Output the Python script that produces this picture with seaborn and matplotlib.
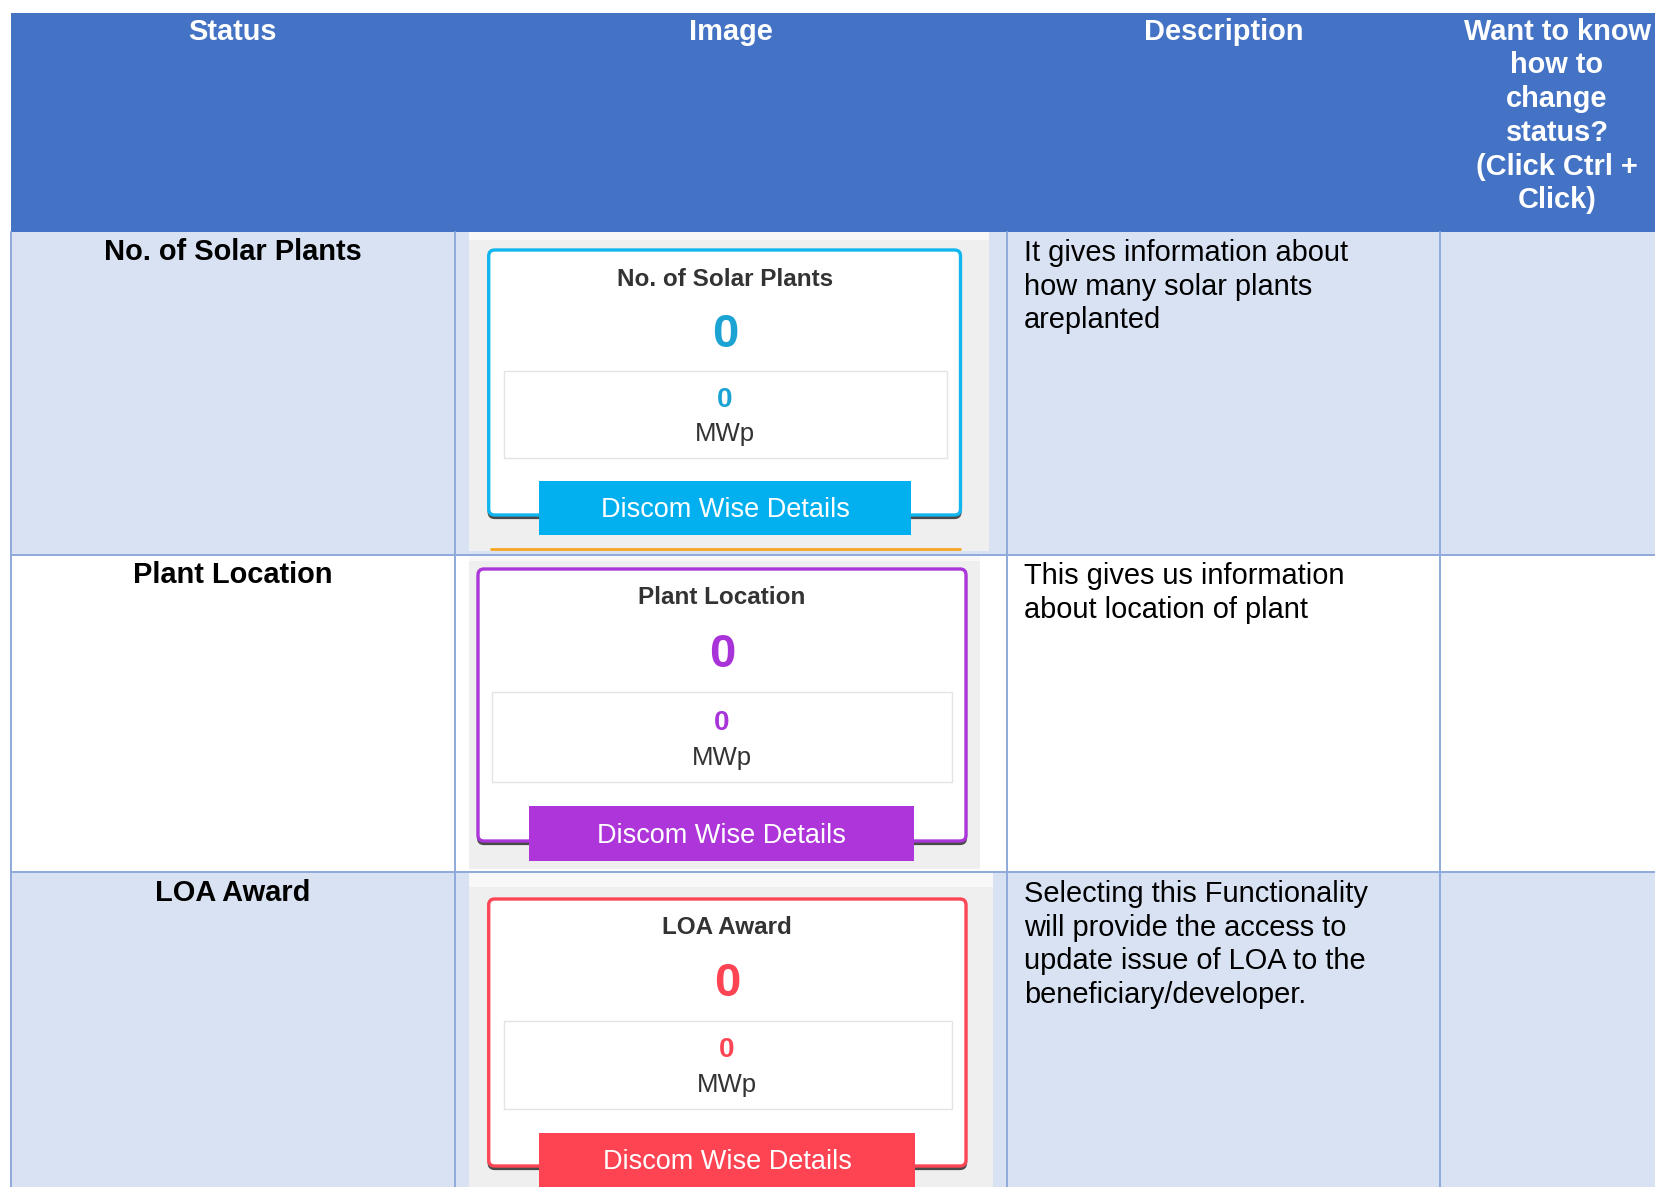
import numpy as np
import seaborn as sns
import matplotlib.pyplot as plt
from matplotlib.patches import Rectangle, FancyBboxPatch

# ---- table content ----
headers = ['Status', 'Image', 'Description',
           'Want to know\nhow to\nchange\nstatus?\n(Click Ctrl +\nClick)']
statuses = ['No. of Solar Plants', 'Plant Location', 'LOA Award']
descriptions = ['It gives information about\nhow many solar plants\nareplanted',
                'This gives us information\nabout location of plant',
                'Selecting this Functionality\nwill provide the access to\nupdate issue of LOA to the\nbeneficiary/developer.']
card_titles = ['No. of Solar Plants', 'Plant Location', 'LOA Award']
plant_counts = [0, 0, 0]
capacity_mwp = [0, 0, 0]
capacity_unit = 'MWp'
button_label = 'Discom Wise Details'

border_colors = ['#12b6ee', '#ab37d9', '#fe4656']
number_colors = ['#1ba3d3', '#a834d9', '#fe4453']
button_colors = ['#02b0f0', '#ae35d9', '#fe4453']

# ---- layout (pixel coords, y downwards) ----
W, H = 1655, 1187
col_x = [10.5, 455, 1007, 1440, 1700]
row_y = [232, 555, 872, 1200]
row_bg = ['#d9e2f3', '#ffffff', '#d9e2f3']
grid_c = '#8eaadb'
header_c = '#4472c4'

cards = [
    dict(panel=(468.6, 232, 989, 551), strip=8, border=(488.7, 250, 960.5, 515), inner=(503.5, 370.5, 947, 458),
         button=(539, 481, 911, 535), cx=725, title_y=279, big_y=335, small_y=400, mwp_y=434, btn_y=510),
    dict(panel=(468.6, 556, 979.5, 869), strip=5, border=(478, 569, 966, 841), inner=(492, 692, 952, 782),
         button=(529, 806, 914, 861), cx=722, title_y=597, big_y=655, small_y=723, mwp_y=758, btn_y=836),
    dict(panel=(468.6, 873, 993, 1200), strip=14, border=(488.7, 899, 966, 1166), inner=(503.5, 1021, 952, 1109),
         button=(539, 1133, 915, 1200), cx=727, title_y=928, big_y=984, small_y=1050, mwp_y=1085, btn_y=1162),
]

sns.set_theme(style='white')
plt.rcParams['font.family'] = ['Liberation Sans', 'DejaVu Sans']

fig = plt.figure(figsize=(W / 100, H / 100), dpi=100)
ax = fig.add_axes([0, 0, 1, 1])
ax.set_xlim(0, W)
ax.set_ylim(H, 0)
ax.axis('off')


def box(x0, y0, x1, y1, **kw):
    ax.add_patch(Rectangle((x0, y0), x1 - x0, y1 - y0, **kw))


def lines(x, y0, text, pitch, **kw):
    for k, ln in enumerate(text.split('\n')):
        ax.text(x, y0 + k * pitch, ln, va='center', **kw)


# header
box(col_x[0], 12.7, col_x[-1], row_y[0], color=header_c, lw=0)
for i, h in enumerate(headers):
    cx = (col_x[i] + col_x[i + 1]) / 2 if i < 3 else 1557
    lines(cx, 31.5, h, 33.8, ha='center', color='white', fontsize=20.9, fontweight='bold')

# body rows
for r in range(3):
    box(col_x[0], row_y[r], col_x[-1], row_y[r + 1], color=row_bg[r], lw=0)
for y in row_y[1:3]:
    ax.plot([col_x[0], col_x[-1]], [y, y], color=grid_c, lw=1.4, zorder=3)
for x in col_x[:4]:
    ax.plot([x, x], [row_y[0], H], color=grid_c, lw=1.4, zorder=3)

status_y = [252, 575, 893]
for r in range(3):
    ax.text((col_x[0] + col_x[1]) / 2, status_y[r], statuses[r], ha='center', va='center',
            fontsize=20.9, fontweight='bold', color='black')
    lines(1024, status_y[r] + 1, descriptions[r], 33.6, ha='left', color='black', fontsize=20.9)

# dashboard card screenshots
for i, c in enumerate(cards):
    px0, py0, px1, py1 = c['panel']
    box(px0, py0, px1, py1, color='#efefef', lw=0, zorder=2)
    box(px0, py0, px1, py0 + c['strip'], color='#f8f8f8', lw=0, zorder=2)
    bx0, by0, bx1, by1 = c['border']
    ax.add_patch(FancyBboxPatch((bx0, by0 + 3), bx1 - bx0, by1 - by0,
                                boxstyle='round,pad=0,rounding_size=6', fc='#4a4a4a', ec='#4a4a4a',
                                lw=1.6, zorder=2.5))
    ax.add_patch(FancyBboxPatch((bx0, by0), bx1 - bx0, by1 - by0,
                                boxstyle='round,pad=0,rounding_size=6', fc='white', ec=border_colors[i],
                                lw=2.4, zorder=2.6))
    ix0, iy0, ix1, iy1 = c['inner']
    box(ix0, iy0, ix1, iy1, fc='white', ec='#e4e4e4', lw=1, zorder=2.7)
    ax.text(c['cx'], c['title_y'], card_titles[i], ha='center', va='center', fontsize=17.5,
            fontweight='bold', color='#333333', zorder=4)
    ax.text(c['cx'], c['big_y'], str(plant_counts[i]), ha='center', va='center', fontsize=34,
            fontweight='bold', color=number_colors[i], zorder=4)
    ax.text(c['cx'], c['small_y'], str(capacity_mwp[i]), ha='center', va='center', fontsize=20,
            fontweight='bold', color=number_colors[i], zorder=4)
    ax.text(c['cx'], c['mwp_y'], capacity_unit, ha='center', va='center', fontsize=18.5,
            color='#333333', zorder=4)
    ux0, uy0, ux1, uy1 = c['button']
    box(ux0, uy0, ux1, uy1, color=button_colors[i], lw=0, zorder=2.8)
    ax.text((ux0 + ux1) / 2, c['btn_y'], button_label, ha='center', va='center', fontsize=19.5,
            color='white', zorder=4)

# orange edge of the next card peeking under the first panel
ax.plot([491, 960], [549, 549], color='#f5a623', lw=2, zorder=2.9)

fig.savefig('out.png', dpi=100)
